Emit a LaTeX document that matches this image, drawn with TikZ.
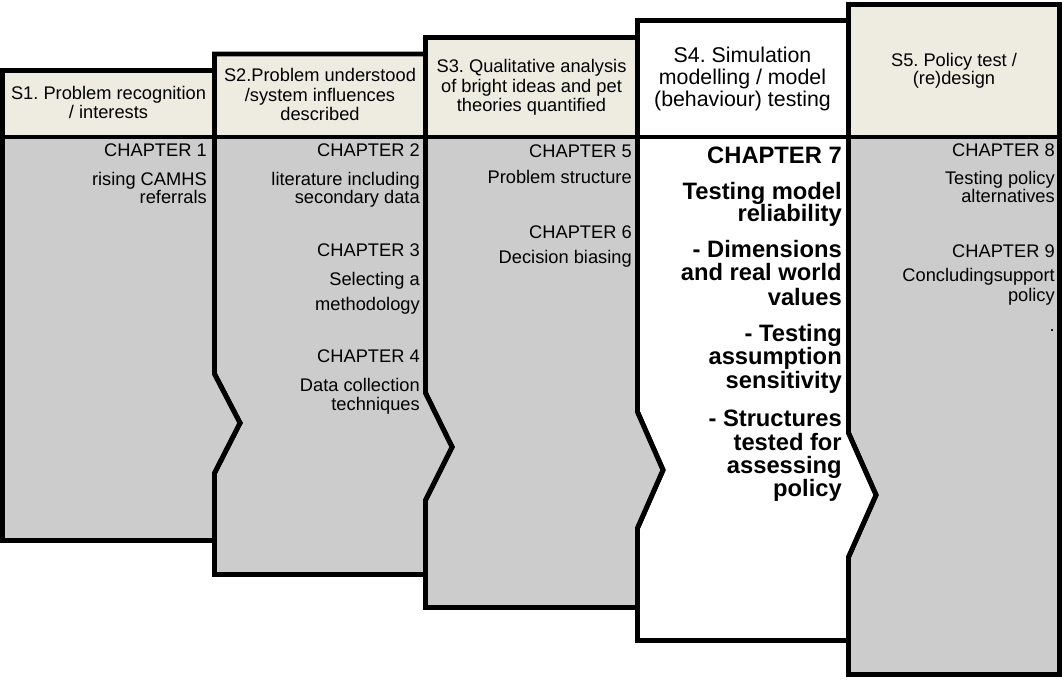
\documentclass[tikz,border=0pt]{standalone}
\usepackage{fontspec}
\setmainfont{Liberation Sans}
\definecolor{headbg}{HTML}{EEECE1}
\definecolor{bodygrey}{HTML}{CCCCCC}
\begin{document}
\frenchspacing
\begin{tikzpicture}[x=0.75pt,y=-0.75pt,
  panel/.style={draw=black, line width=3.7pt, line join=miter},
  txt/.style={inner sep=0pt, text=black, font=\fontsize{13.7}{15}\selectfont\frenchspacing},
  hd/.style={txt, anchor=base},
  bd/.style={txt, anchor=base east},
  hdbig/.style={inner sep=0pt, text=black, anchor=base, font=\fontsize{16}{18}\selectfont\frenchspacing},
  bold/.style={inner sep=0pt, text=black, anchor=base east, font=\fontsize{17.8}{20}\selectfont\bfseries\frenchspacing}]
\useasboundingbox (0,0) rectangle (1062,680);

% ---------- column 5 ----------
\fill[bodygrey] (848.5,4.5) rectangle (1059.5,674.5);
\fill[headbg] (848.5,4.5) rectangle (1059.5,137);
\draw[panel] (848.5,4.5) -- (1059.5,4.5) -- (1059.5,674.5) -- (848.5,674.5) -- (848.5,557) -- (876,495) -- (848.5,433) -- cycle;
\draw[panel] (848.5,137) -- (1059.5,137);

% ---------- column 4 ----------
\fill[white] (637.5,20.5) -- (848.5,20.5) -- (848.5,433) -- (876,495) -- (848.5,557) -- (848.5,640.5) -- (637.5,640.5) -- (637.5,528) -- (663,470) -- (637.5,412) -- cycle;
\draw[panel] (637.5,20.5) -- (848.5,20.5) -- (848.5,433) -- (876,495) -- (848.5,557) -- (848.5,640.5) -- (637.5,640.5) -- (637.5,528) -- (663,470) -- (637.5,412) -- cycle;
\draw[panel] (637.5,137) -- (848.5,137);

% ---------- column 3 ----------
\fill[bodygrey] (425.5,37.5) -- (637.5,37.5) -- (637.5,412) -- (663,470) -- (637.5,528) -- (637.5,607.5) -- (425.5,607.5) -- (425.5,500) -- (452,447) -- (425.5,393) -- cycle;
\fill[headbg] (425.5,37.5) rectangle (637.5,137);
\draw[panel] (425.5,37.5) -- (637.5,37.5) -- (637.5,412) -- (663,470) -- (637.5,528) -- (637.5,607.5) -- (425.5,607.5) -- (425.5,500) -- (452,447) -- (425.5,393) -- cycle;
\draw[panel] (425.5,137) -- (637.5,137);

% ---------- column 2 ----------
\fill[bodygrey] (214.5,54) -- (425.5,54) -- (425.5,393) -- (452,447) -- (425.5,500) -- (425.5,574.5) -- (214.5,574.5) -- (214.5,473) -- (240,423) -- (214.5,374) -- cycle;
\fill[headbg] (214.5,54) rectangle (425.5,137);
\draw[panel] (214.5,54) -- (425.5,54) -- (425.5,393) -- (452,447) -- (425.5,500) -- (425.5,574.5) -- (214.5,574.5) -- (214.5,473) -- (240,423) -- (214.5,374) -- cycle;
\draw[panel] (214.5,137) -- (425.5,137);

% ---------- column 1 ----------
\fill[bodygrey] (2.5,70.5) -- (214.5,70.5) -- (214.5,374) -- (240,423) -- (214.5,473) -- (214.5,540.5) -- (2.5,540.5) -- cycle;
\fill[headbg] (2.5,70.5) rectangle (214.5,137);
\draw[panel] (2.5,70.5) -- (214.5,70.5) -- (214.5,374) -- (240,423) -- (214.5,473) -- (214.5,540.5) -- (2.5,540.5) -- cycle;
\draw[panel] (2.5,137) -- (214.5,137);

% ---------- texts column 1 ----------
\node[hd] (h1a) at (108.5,100) {S1. Problem recognition};
\node[hd] (h1b) at (108.5,119) {/ interests};
\node[bd] (c1) at (207,157) {CHAPTER 1};
\node[bd] (c1a) at (207,186) {rising CAMHS};
\node[bd] (c1b) at (207,204) {referrals};

% ---------- texts column 2 ----------
\node[hd] (h2a) at (320,82) {S2.Problem understood};
\node[hd] (h2b) at (320,102) {/system influences};
\node[hd] (h2c) at (320,121) {described};
\node[bd] (c2) at (420,157) {CHAPTER 2};
\node[bd] (c2a) at (420,186) {literature including};
\node[bd] (c2b) at (420,204) {secondary data};
\node[bd] (c3) at (420,257) {CHAPTER 3};
\node[bd] (c3a) at (420,286) {Selecting a};
\node[bd] (c3b) at (420,311) {methodology};
\node[bd] (c4) at (420,363) {CHAPTER 4};
\node[bd] (c4a) at (420,392) {Data collection};
\node[bd] (c4b) at (420,410) {techniques};

% ---------- texts column 3 ----------
\node[hd] (h3a) at (531.5,73) {S3. Qualitative analysis};
\node[hd] (h3b) at (531.5,93) {of bright ideas and pet};
\node[hd] (h3c) at (531.5,112) {theories quantified};
\node[bd] (c5) at (632,158) {CHAPTER 5};
\node[bd] (c5a) at (632,184) {Problem structure};
\node[bd] (c6) at (632,239) {CHAPTER 6};
\node[bd] (c6a) at (632,264) {Decision biasing};

% ---------- texts column 4 ----------
\node[hdbig] (h4a) at (742.5,63) {S4. Simulation};
\node[hdbig] (h4b) at (742.5,85) {modelling / model};
\node[hdbig] (h4c) at (742.5,107) {(behaviour) testing};
\node[bold] (c7) at (842,164) {CHAPTER 7};
\node[bold] (c7a) at (842,199.5) {Testing model};
\node[bold] (c7b) at (842,221.5) {reliability};
\node[bold] (c7c) at (842,258) {- Dimensions};
\node[bold] (c7d) at (842,281) {and real world};
\node[bold] (c7e) at (842,305.5) {values};
\node[bold] (c7f) at (842,341.5) {- Testing};
\node[bold] (c7g) at (842,364) {assumption};
\node[bold] (c7h) at (842,388) {sensitivity};
\node[bold] (c7i) at (842,426.5) {- Structures};
\node[bold] (c7j) at (842,450) {tested for};
\node[bold] (c7k) at (842,473.5) {assessing};
\node[bold] (c7l) at (842,496.5) {policy};

% ---------- texts column 5 ----------
\node[hd] (h5a) at (954,67) {S5. Policy test /};
\node[hd] (h5b) at (954,85) {(re)design};
\node[bd] (c8) at (1055,157) {CHAPTER 8};
\node[bd] (c8a) at (1055,185) {Testing policy};
\node[bd] (c8b) at (1055,203) {alternatives};
\node[bd] (c9) at (1055,258) {CHAPTER 9};
\node[bd] (c9a) at (1055,282) {Concludingsupport};
\node[bd] (c9b) at (1055,302) {policy};
\node[bd] (c9c) at (1055,332) {.};
\end{tikzpicture}
\end{document}
